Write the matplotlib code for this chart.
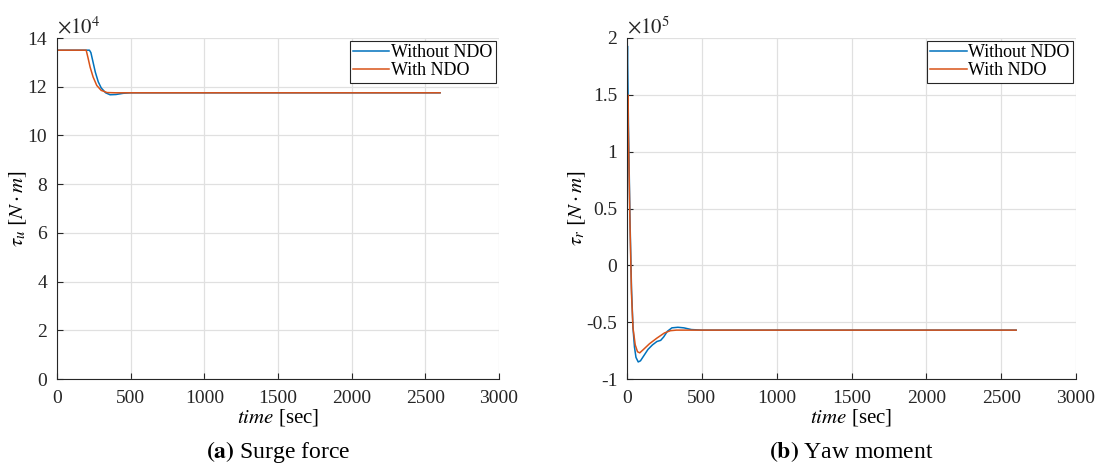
import matplotlib
matplotlib.use("Agg")
import matplotlib.pyplot as plt
from matplotlib.ticker import FixedLocator, FuncFormatter

plt.rcParams['font.family'] = ['Liberation Serif', 'DejaVu Serif']
plt.rcParams['mathtext.fontset'] = 'stix'
plt.rcParams['axes.unicode_minus'] = False

# ---- data ----
surge_t_without = [0, 220, 230, 245, 260, 280, 300, 330, 360, 400, 450, 500, 2600]
surge_without = [13.5, 13.5, 13.4, 13.0, 12.6, 12.2, 11.95, 11.75, 11.67, 11.68, 11.73, 11.75, 11.75]
surge_t_with = [0, 198, 210, 225, 245, 270, 300, 340, 400, 2600]
surge_with = [13.5, 13.5, 13.2, 12.8, 12.4, 12.05, 11.85, 11.76, 11.75, 11.75]

yaw_t_without = [0, 3, 10, 20, 30, 40, 50, 60, 75, 90, 110, 140, 170, 200, 225, 245, 270, 300, 340, 380, 430, 500, 2600]
yaw_without = [1.6, 1.93, 1.2, 0.4, -0.2, -0.55, -0.72, -0.81, -0.85, -0.84, -0.8, -0.74, -0.7, -0.67, -0.66, -0.63, -0.58, -0.55, -0.545, -0.55, -0.565, -0.57, -0.57]
yaw_t_with = [0, 5, 10, 20, 30, 40, 55, 70, 85, 110, 150, 200, 250, 290, 330, 2600]
yaw_with = [0.9, 1.5, 1.1, 0.35, -0.25, -0.55, -0.7, -0.76, -0.77, -0.74, -0.69, -0.64, -0.595, -0.575, -0.57, -0.57]

x_ticks = [0, 500, 1000, 1500, 2000, 2500, 3000]
surge_yticks = [0, 2, 4, 6, 8, 10, 12, 14]
yaw_yticks = [-1, -0.5, 0, 0.5, 1, 1.5, 2]
labels = ['Without NDO', 'With NDO']
colors = ['#0072BD', '#D95319']

W, H = 1104, 472
fig = plt.figure(figsize=(W / 100, H / 100), dpi=100)

def fmt(v, pos):
    return '%g' % v

def setup(ax, yticks, ylim, ylabel, exp, width_px, label_off):
    ax.set_xlim(0, 3000)
    ax.set_ylim(*ylim)
    ax.xaxis.set_major_locator(FixedLocator(x_ticks))
    ax.yaxis.set_major_locator(FixedLocator(yticks))
    ax.yaxis.set_major_formatter(FuncFormatter(fmt))
    ax.grid(True, color='#e0e0e0', linewidth=0.9)
    ax.set_axisbelow(True)
    ax.tick_params(direction='in', length=4, labelsize=14, width=0.8, colors='#262626')
    ax.tick_params(axis='y', pad=7)
    ax.tick_params(axis='x', pad=8)
    for s in ['top', 'right']:
        ax.spines[s].set_visible(False)
    for s in ['left', 'bottom']:
        ax.spines[s].set_color('#262626')
    ax.set_xlabel(r'$time$ [sec]', fontsize=15, labelpad=0)
    ax.set_ylabel(ylabel, fontsize=15)
    ax.yaxis.set_label_coords(-label_off / width_px, 0.5)
    ax.text(0.0, 1.0, r'$\times 10^{%d}$' % exp, transform=ax.transAxes,
            fontsize=15, ha='left', va='bottom', color='#262626')
    leg = ax.legend(loc='upper right', fontsize=13, frameon=True, fancybox=False,
                    edgecolor='#262626', framealpha=1, borderaxespad=0.15,
                    handlelength=2.0, handletextpad=0.1, borderpad=0.2,
                    labelspacing=0.05)
    leg.get_frame().set_linewidth(0.8)

ax1 = fig.add_axes([57 / W, 1 - 379 / H, 442 / W, 341 / H])
ax1.plot(surge_t_without, surge_without, color=colors[0], lw=1.1, label=labels[0])
ax1.plot(surge_t_with, surge_with, color=colors[1], lw=1.1, label=labels[1])
setup(ax1, surge_yticks, (0, 14), r'$\tau_u\ [N \cdot m]$', 4, 442, 28)

ax2 = fig.add_axes([627 / W, 1 - 379 / H, 449 / W, 341 / H])
ax2.plot(yaw_t_without, yaw_without, color=colors[0], lw=1.1, label=labels[0])
ax2.plot(yaw_t_with, yaw_with, color=colors[1], lw=1.1, label=labels[1])
setup(ax2, yaw_yticks, (-1, 2), r'$\tau_r\ [N \cdot m]$', 5, 449, 39)

def caption(xc, letter, text):
    return fig.text(xc / W, 1 - 452 / H, r'$\mathbf{(%s)}$ %s' % (letter, text),
                    ha='center', va='center', fontsize=17)

caption(278, 'a', 'Surge force')
caption(851, 'b', 'Yaw moment')

fig.savefig('out.png', dpi=100)
